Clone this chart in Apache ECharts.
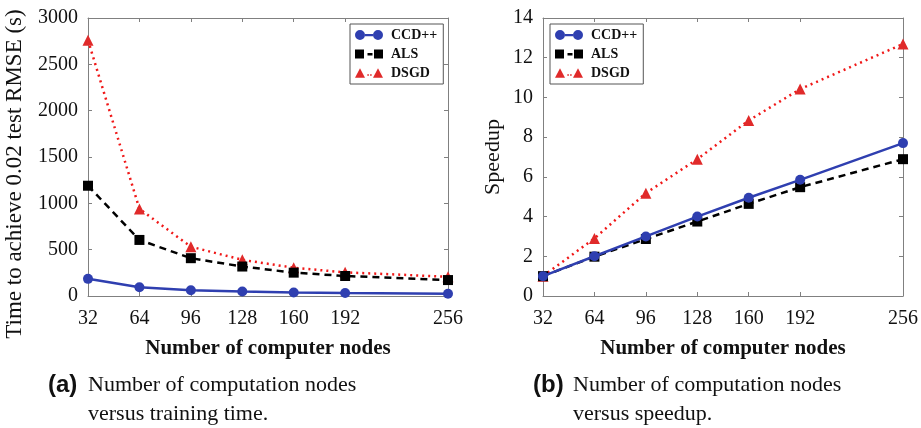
<!DOCTYPE html>
<html>
    <head>
        <meta charset="utf-8">
        <title>CCD++ vs ALS vs DSGD</title>
        <script src="https://cdn.jsdelivr.net/npm/echarts@6/dist/echarts.min.js"></script>
        <style>
            body { margin: 0; background: #fff; }
        </style>
    </head>
    <body>
        <div id="main" style="width:921px; height:428px;"></div>
        <script type="text/javascript">
            // 节点数
            var nodes = [32, 64, 96, 128, 160, 192, 256]
            var xTicks = [32, 64, 96, 128, 160, 192, 256]
            // (a) 训练时间 (s)
            var timeCCD = [185, 95, 62, 48, 38, 32, 25]
            var timeALS = [1190, 605, 408, 318, 252, 216, 172]
            var timeDSGD = [2760, 940, 532, 390, 305, 255, 208]
            // (b) 加速比
            var speedCCD = [1, 2, 3, 4.0, 4.95, 5.85, 7.7]
            var speedALS = [1, 1.98, 2.87, 3.75, 4.64, 5.48, 6.89]
            var speedDSGD = [1, 2.9, 5.18, 6.89, 8.84, 10.42, 12.69]

            var pairs = function(xs, ys) {
                var out = []
                for (var i = 0; i < xs.length; i++) {
                    out.push([xs[i], ys[i]])
                }
                return out
            }

            var serif = '"Liberation Serif", "DejaVu Serif", serif'
            var frame = '#808080'
            var blue = '#2f3fb0'
            var red = '#e02a2a'

            // 图例图标: 标记-线-标记
            var iconCCD = 'path://M0,5a5,5 0 1,0 10,0a5,5 0 1,0 -10,0zM10,4h8v2.2h-8zM18,5a5,5 0 1,0 10,0a5,5 0 1,0 -10,0z'
            var iconALS = 'path://M0,0.5h9v9h-9zM12.5,4h5v2.4h-5zM19,0.5h9v9h-9z'
            var iconDSGD = 'path://M0,10L5,0.5L10,10zM12.3,6.5h1.6v1.6h-1.6zM15.1,6.5h1.6v1.6h-1.6zM18,10L23,0.5L28,10z'

            var xAxisFor = function(idx, withName) {
                return {
                    type: 'value',
                    gridIndex: idx,
                    min: 32,
                    max: 256,
                    position: withName ? 'bottom' : 'top',
                    name: withName ? 'Number of computer nodes' : '',
                    nameLocation: 'middle',
                    nameGap: 42,
                    nameTextStyle: { fontFamily: serif, fontWeight: 'bold', fontSize: 21, color: '#111' },
                    axisLine: { show: true, onZero: false, lineStyle: { color: frame } },
                    axisTick: { show: true, inside: true, length: 4, customValues: xTicks, lineStyle: { color: frame } },
                    axisLabel: { show: withName, customValues: xTicks, margin: 13, fontFamily: serif, fontSize: 20, color: '#111' },
                    splitLine: { show: false }
                }
            }

            var yAxisFor = function(idx, withName, max, interval, name, gap) {
                return {
                    type: 'value',
                    gridIndex: idx,
                    min: 0,
                    max: max,
                    interval: interval,
                    position: withName ? 'left' : 'right',
                    name: withName ? name : '',
                    nameLocation: 'middle',
                    nameGap: gap,
                    nameTextStyle: { fontFamily: serif, fontSize: 22, color: '#111' },
                    axisLine: { show: true, onZero: false, lineStyle: { color: frame } },
                    axisTick: { show: true, inside: true, length: 4, lineStyle: { color: frame } },
                    axisLabel: {
                        show: withName, margin: 10, fontFamily: serif, fontSize: 20, color: '#111',
                        formatter: function(v) { return String(v) }
                    },
                    splitLine: { show: false }
                }
            }

            var seriesFor = function(xi, yi, ccd, als, dsgd) {
                return [
                    {
                        name: 'CCD++', type: 'line', xAxisIndex: xi, yAxisIndex: yi,
                        data: pairs(nodes, ccd),
                        symbol: 'circle', symbolSize: 10,
                        lineStyle: { color: blue, width: 2.5 },
                        itemStyle: { color: blue },
                        z: 3
                    },
                    {
                        name: 'ALS', type: 'line', xAxisIndex: xi, yAxisIndex: yi,
                        data: pairs(nodes, als),
                        symbol: 'rect', symbolSize: 10,
                        lineStyle: { color: '#000', width: 2.5, type: [7, 5] },
                        itemStyle: { color: '#000' },
                        z: 2
                    },
                    {
                        name: 'DSGD', type: 'line', xAxisIndex: xi, yAxisIndex: yi,
                        data: pairs(nodes, dsgd),
                        symbol: 'triangle', symbolSize: 11,
                        lineStyle: { color: '#f01818', width: 2.5, type: [2, 4] },
                        itemStyle: { color: red },
                        z: 1
                    }
                ]
            }

            var legendFor = function(left) {
                return {
                    orient: 'vertical',
                    left: left,
                    top: 24,
                    itemWidth: 28,
                    itemHeight: 10,
                    itemGap: 5,
                    padding: [4, 6, 4, 5],
                    borderColor: '#555',
                    borderWidth: 1,
                    backgroundColor: '#fff',
                    textStyle: { fontFamily: serif, fontWeight: 'bold', fontSize: 14, color: '#111', padding: [0, 0, 0, 3] },
                    data: [
                        { name: 'CCD++', icon: iconCCD },
                        { name: 'ALS', icon: iconALS },
                        { name: 'DSGD', icon: iconDSGD }
                    ]
                }
            }

            var captionText = function(x, letter, line1, line2) {
                return [
                    {
                        type: 'text', left: x, top: 373,
                        style: { text: letter, font: 'bold 24px "Liberation Sans", Arial, sans-serif', fill: '#111' }
                    },
                    {
                        type: 'text', left: x + 40, top: 374,
                        style: { text: line1, font: '22px ' + serif, fill: '#111' }
                    },
                    {
                        type: 'text', left: x + 40, top: 403,
                        style: { text: line2, font: '22px ' + serif, fill: '#111' }
                    }
                ]
            }

            var myChart = echarts.init(document.querySelector('#main'))
            var option = {
                animation: false,
                grid: [
                    { left: 88, top: 18, width: 360, height: 278 },
                    { left: 543, top: 18, width: 360, height: 278 }
                ],
                xAxis: [xAxisFor(0, true), xAxisFor(0, false), xAxisFor(1, true), xAxisFor(1, false)],
                yAxis: [
                    yAxisFor(0, true, 3000, 500, '', 0),
                    yAxisFor(0, false, 3000, 500, '', 0),
                    yAxisFor(1, true, 14, 2, 'Speedup', 39),
                    yAxisFor(1, false, 14, 2, '', 0)
                ],
                legend: [legendFor(350), legendFor(550)],
                series: seriesFor(0, 0, timeCCD, timeALS, timeDSGD)
                    .concat(seriesFor(2, 2, speedCCD, speedALS, speedDSGD)),
                graphic: [
                    {
                        type: 'text', x: 15, y: 174, rotation: Math.PI / 2,
                        style: {
                            text: 'Time to achieve 0.02 test RMSE (s)',
                            font: '23px ' + serif, fill: '#111',
                            align: 'center', verticalAlign: 'middle'
                        }
                    }
                ].concat(captionText(48, '(a)', 'Number of computation nodes', 'versus training time.'))
                    .concat(captionText(533, '(b)', 'Number of computation nodes', 'versus speedup.'))
            }
            myChart.setOption(option)
        </script>
    </body>
</html>
